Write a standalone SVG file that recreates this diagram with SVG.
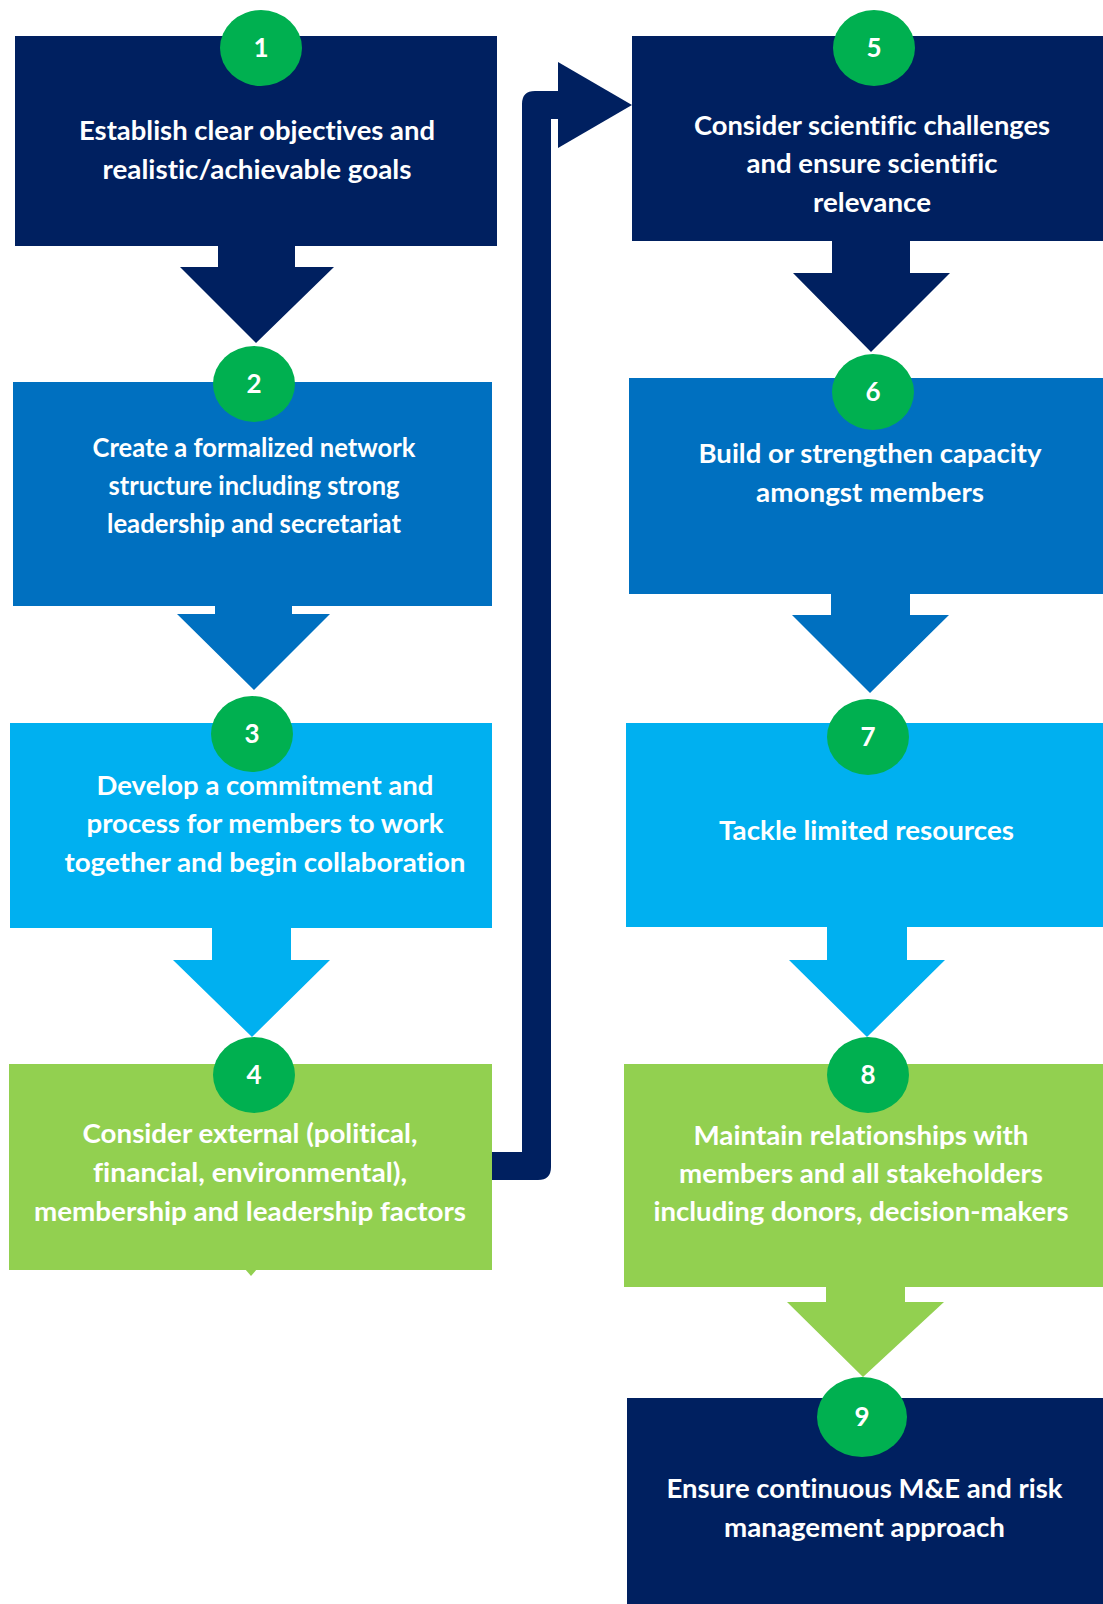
<svg xmlns="http://www.w3.org/2000/svg" width="1103" height="1604" viewBox="0 0 1103 1604">
<style>
.navy{fill:#002060}
.blue{fill:#0070C0}
.sky{fill:#00B0F0}
.lime{fill:#92D050}
.badge{fill:#00B050}
.t{font-family:Lato,"Open Sans","Liberation Sans",sans-serif;font-weight:700;font-size:27px;fill:#ffffff;text-anchor:middle;font-variant-ligatures:none;font-feature-settings:"liga" 0,"dlig" 0}
.n{font-family:Lato,"Open Sans","Liberation Sans",sans-serif;font-weight:700;font-size:26px;fill:#ffffff;text-anchor:middle}
</style>
<rect width="1103" height="1604" fill="#ffffff"/>
<g id="connectors">
  <polygon class="navy" points="218,245 295,245 295,267 334,267 256,343 180,267 218,267"/>
  <polygon class="blue" points="215,605 292,605 292,614 330,614 254,690 177,614 215,614"/>
  <polygon class="sky" points="212,927 291,927 291,960 330,960 252,1037 173,960 212,960"/>
  <path class="navy" d="M492,1152 L522,1152 L522,104 Q522,91 535,91 L558,91 L558,119 L551,119 L551,1167 Q551,1180 538,1180 L492,1180 Z"/>
  <polygon class="navy" points="558,62 632,105 558,148"/>
  <polygon class="navy" points="832,240 910,240 910,273 950,273 871,352 793,273 832,273"/>
  <polygon class="blue" points="831,593 910,593 910,615 949,615 870,693 792,615 831,615"/>
  <polygon class="sky" points="827,926 907,926 907,960 945,960 867,1037 789,960 827,960"/>
  <polygon class="lime" points="826,1286 905,1286 905,1302 944,1302 863,1377 787,1302 826,1302"/>
</g>
<g id="node1">
  <rect class="navy" x="15" y="36" width="482" height="210"/>
  <ellipse class="badge" cx="261" cy="48" rx="41" ry="38"/>
  <text class="n" x="261" y="57">1</text>
  <text class="t" x="257" y="140" textLength="356" lengthAdjust="spacingAndGlyphs">Establish clear objectives and</text>
  <text class="t" x="257" y="179" textLength="309" lengthAdjust="spacingAndGlyphs">realistic/achievable goals</text>
</g>
<g id="node2">
  <rect class="blue" x="13" y="382" width="479" height="224"/>
  <ellipse class="badge" cx="254" cy="384" rx="41" ry="38"/>
  <text class="n" x="254" y="393">2</text>
  <text class="t" x="254" y="457" textLength="323" lengthAdjust="spacingAndGlyphs">Create a formalized network</text>
  <text class="t" x="254" y="495" textLength="291" lengthAdjust="spacingAndGlyphs">structure including strong</text>
  <text class="t" x="254" y="533" textLength="294" lengthAdjust="spacingAndGlyphs">leadership and secretariat</text>
</g>
<g id="node3">
  <rect class="sky" x="10" y="723" width="482" height="205"/>
  <ellipse class="badge" cx="252" cy="734" rx="41" ry="38"/>
  <text class="n" x="252" y="743">3</text>
  <text class="t" x="265" y="795" textLength="337" lengthAdjust="spacingAndGlyphs">Develop a commitment and</text>
  <text class="t" x="265" y="833" textLength="357" lengthAdjust="spacingAndGlyphs">process for members to work</text>
  <text class="t" x="265" y="872" textLength="401" lengthAdjust="spacingAndGlyphs">together and begin collaboration</text>
</g>
<g id="node4">
  <rect class="lime" x="9" y="1064" width="483" height="206"/>
  <polygon class="lime" points="245,1269 257,1269 251,1276"/>
  <ellipse class="badge" cx="254" cy="1075" rx="41" ry="38"/>
  <text class="n" x="254" y="1084">4</text>
  <text class="t" x="250" y="1143" textLength="335" lengthAdjust="spacingAndGlyphs">Consider external (political,</text>
  <text class="t" x="250" y="1182" textLength="314" lengthAdjust="spacingAndGlyphs">financial, environmental),</text>
  <text class="t" x="250" y="1221" textLength="432" lengthAdjust="spacingAndGlyphs">membership and leadership factors</text>
</g>
<g id="node5">
  <rect class="navy" x="632" y="36" width="471" height="205"/>
  <ellipse class="badge" cx="874" cy="48" rx="41" ry="38"/>
  <text class="n" x="874" y="57">5</text>
  <text class="t" x="872" y="135" textLength="356" lengthAdjust="spacingAndGlyphs">Consider scientific challenges</text>
  <text class="t" x="872" y="173" textLength="251" lengthAdjust="spacingAndGlyphs">and ensure scientific</text>
  <text class="t" x="872" y="212" textLength="118" lengthAdjust="spacingAndGlyphs">relevance</text>
</g>
<g id="node6">
  <rect class="blue" x="629" y="378" width="474" height="216"/>
  <ellipse class="badge" cx="873" cy="392" rx="41" ry="38"/>
  <text class="n" x="873" y="401">6</text>
  <text class="t" x="870" y="463" textLength="343" lengthAdjust="spacingAndGlyphs">Build or strengthen capacity</text>
  <text class="t" x="870" y="502" textLength="228" lengthAdjust="spacingAndGlyphs">amongst members</text>
</g>
<g id="node7">
  <rect class="sky" x="626" y="723" width="477" height="204"/>
  <ellipse class="badge" cx="868" cy="737" rx="41" ry="38"/>
  <text class="n" x="868" y="746">7</text>
  <text class="t" x="866.5" y="840" textLength="295" lengthAdjust="spacingAndGlyphs">Tackle limited resources</text>
</g>
<g id="node8">
  <rect class="lime" x="624" y="1064" width="479" height="223"/>
  <ellipse class="badge" cx="868" cy="1075" rx="41" ry="38"/>
  <text class="n" x="868" y="1084">8</text>
  <text class="t" x="861" y="1145" textLength="335" lengthAdjust="spacingAndGlyphs">Maintain relationships with</text>
  <text class="t" x="861" y="1183" textLength="364" lengthAdjust="spacingAndGlyphs">members and all stakeholders</text>
  <text class="t" x="861" y="1221" textLength="415" lengthAdjust="spacingAndGlyphs">including donors, decision-makers</text>
</g>
<g id="node9">
  <rect class="navy" x="627" y="1398" width="476" height="206"/>
  <ellipse class="badge" cx="862" cy="1417" rx="45" ry="40"/>
  <text class="n" x="862" y="1426">9</text>
  <text class="t" x="864.5" y="1498" textLength="396" lengthAdjust="spacingAndGlyphs">Ensure continuous M&amp;E and risk</text>
  <text class="t" x="864.5" y="1537" textLength="281" lengthAdjust="spacingAndGlyphs">management approach</text>
</g>
</svg>
